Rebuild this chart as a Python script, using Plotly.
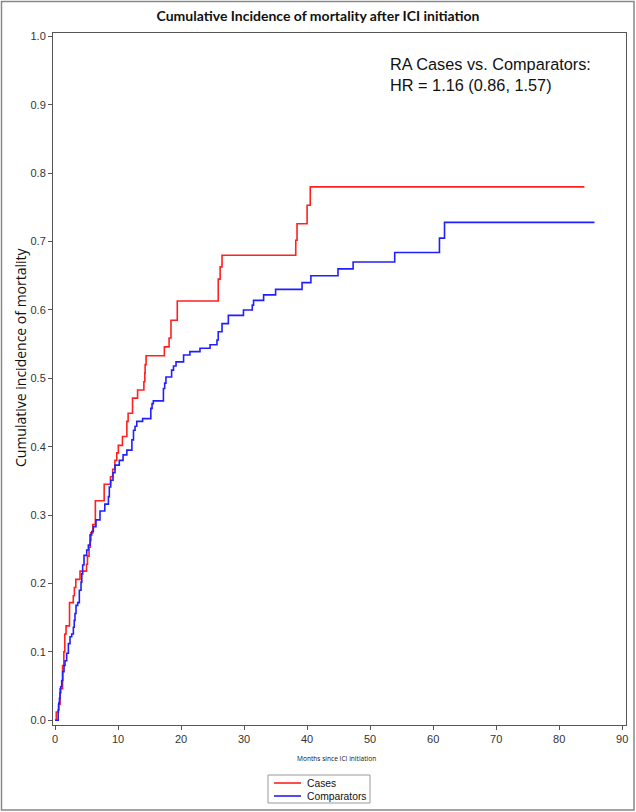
import plotly.graph_objects as go

# Cases (red) step curve: time in months, cumulative incidence
cases_t = [0, 0.2, 0.55, 0.8, 1.2, 1.4, 1.55, 1.75, 2.3, 2.9, 3.07, 3.3, 3.97, 5.0, 5.15, 5.4,
           5.6, 5.7, 6.0, 6.4, 7.8, 8.8, 9.15, 9.5, 9.8, 10.05, 10.7, 11.4, 11.6, 12.3, 13.1,
           14.1, 14.25, 14.3, 14.45, 17.35, 18.1, 18.4, 19.4, 25.9, 26.2, 26.5, 38.2, 38.4,
           40.0, 40.5, 84.0]
cases_v = [0, 0.012, 0.023, 0.046, 0.08, 0.10, 0.126, 0.138, 0.172, 0.182, 0.194, 0.206, 0.218,
           0.228, 0.240, 0.253, 0.263, 0.274, 0.286, 0.321, 0.345, 0.356, 0.367, 0.380, 0.391,
           0.402, 0.415, 0.437, 0.449, 0.471, 0.483, 0.495, 0.508, 0.520, 0.533, 0.546, 0.559,
           0.585, 0.613, 0.645, 0.663, 0.680, 0.702, 0.726, 0.753, 0.780, 0.780]

# Comparators (blue) step curve
comp_t = [0, 0.5, 0.6, 0.7, 0.8, 0.9, 1.06, 1.22, 1.43, 1.59, 1.85, 2.12, 2.38, 2.65, 2.91, 3.05,
          3.17, 3.33, 3.6, 3.86, 4.13, 4.25, 4.39, 4.6, 5.03, 5.29, 5.56, 5.82, 6.08, 6.5, 7.14,
          7.9, 8.47, 8.62, 8.84, 9.2, 9.52, 10.2, 10.8, 11.4, 12.2, 12.45, 12.7, 12.97, 13.9,
          15.2, 15.4, 15.6, 17.2, 17.4, 17.6, 18.5, 18.8, 19.2, 20.4, 21.4, 23.0, 24.6, 25.7,
          25.9, 26.5, 27.5, 29.9, 31.3, 31.5, 33.1, 35.0, 39.2, 40.6, 44.9, 47.3, 53.9, 61.0,
          61.8, 85.6]
comp_v = [0, 0.015, 0.025, 0.032, 0.04, 0.049, 0.058, 0.071, 0.080, 0.087, 0.098, 0.112, 0.122,
          0.126, 0.136, 0.146, 0.156, 0.168, 0.172, 0.19, 0.202, 0.214, 0.227, 0.241, 0.249,
          0.256, 0.271, 0.276, 0.283, 0.293, 0.306, 0.316, 0.327, 0.341, 0.351, 0.362, 0.373,
          0.380, 0.388, 0.395, 0.410, 0.424, 0.430, 0.437, 0.441, 0.456, 0.463, 0.467, 0.485,
          0.493, 0.502, 0.512, 0.518, 0.524, 0.534, 0.539, 0.544, 0.549, 0.556, 0.568, 0.580,
          0.592, 0.600, 0.607, 0.614, 0.622, 0.630, 0.640, 0.650, 0.660, 0.670, 0.684, 0.705,
          0.728, 0.728]

series_names = ["Cases", "Comparators"]
series_colors = ["#FF2020", "#2020FF"]

x_ticks = [0, 10, 20, 30, 40, 50, 60, 70, 80, 90]
y_ticks = [0.0, 0.1, 0.2, 0.3, 0.4, 0.5, 0.6, 0.7, 0.8, 0.9, 1.0]
y_tick_text = [f"{v:.1f}" for v in y_ticks]

W, H = 636, 812
L, R, T, B = 53, 626, 33, 725


def px(xp):
    return (xp - L) / (R - L)


def py(yp):
    return (B - yp) / (B - T)


fig = go.Figure()
fig.add_trace(go.Scatter(x=cases_t, y=cases_v, mode="lines", line_shape="hv",
                         line=dict(color=series_colors[0], width=1.6), name=series_names[0]))
fig.add_trace(go.Scatter(x=comp_t, y=comp_v, mode="lines", line_shape="hv",
                         line=dict(color=series_colors[1], width=1.6), name=series_names[1]))

axis_common = dict(showline=True, mirror=True, linecolor="#555555", linewidth=1,
                   ticks="outside", ticklen=4, tickcolor="#555555", showgrid=False,
                   zeroline=False, automargin=False,
                   tickfont=dict(family="Liberation Sans", size=11, color="#333333"))

fig.update_layout(
    width=W, height=H,
    margin=dict(l=L, r=W - R, t=T, b=H - B, autoexpand=False),
    paper_bgcolor="white", plot_bgcolor="white",
    title=dict(text="<b>Cumulative Incidence of mortality after ICI initiation</b>",
               x=0.5, xanchor="center", y=1 - 16 / H, yanchor="middle",
               font=dict(family="Lato", size=14, color="#111111")),
    xaxis=dict(range=[-0.32, 90.6], tickvals=x_ticks, **axis_common),
    yaxis=dict(range=[-0.007, 1.005], tickvals=y_ticks, ticktext=y_tick_text, **axis_common),
    showlegend=False,
)

fig.add_annotation(text="Cumulative incidence of mortality", textangle=-90,
                   xref="paper", yref="paper", x=px(20), y=py(357),
                   showarrow=False, xanchor="center", yanchor="middle",
                   font=dict(family="Open Sans", size=14, color="#111111"))
fig.add_annotation(text="Months since ICI initiation",
                   xref="paper", yref="paper", x=px(336), y=py(759),
                   showarrow=False, xanchor="center", yanchor="middle",
                   font=dict(family="Open Sans", size=6.6, color="#111111"))
fig.add_annotation(text="RA Cases vs. Comparators:<br>HR = 1.16 (0.86, 1.57)",
                   xref="paper", yref="paper", x=px(388), y=py(53),
                   showarrow=False, xanchor="left", yanchor="top", align="left",
                   font=dict(family="Liberation Sans", size=16.3, color="#111111"))

# manual legend
fig.add_shape(type="rect", xref="paper", yref="paper",
              x0=px(268), x1=px(370), y0=py(803), y1=py(775),
              line=dict(color="#999999", width=1), fillcolor="white")
for i, (nm, col) in enumerate(zip(series_names, series_colors)):
    yy = 783 + 13 * i
    fig.add_shape(type="line", xref="paper", yref="paper",
                  x0=px(274), x1=px(301), y0=py(yy), y1=py(yy),
                  line=dict(color=col, width=1.6))
    fig.add_annotation(text=nm, xref="paper", yref="paper", x=px(305), y=py(yy),
                       showarrow=False, xanchor="left", yanchor="middle",
                       font=dict(family="Liberation Sans", size=10.3, color="#111111"))

# outer graph border
fig.add_shape(type="rect", xref="paper", yref="paper",
              x0=px(1.5), x1=px(634), y0=py(810), y1=py(1.5),
              line=dict(color="#888888", width=1.5), layer="below")

fig.write_html("out.html", config={"displayModeBar": False},
               post_script="document.body.style.margin='0';document.body.style.overflow='hidden';")
